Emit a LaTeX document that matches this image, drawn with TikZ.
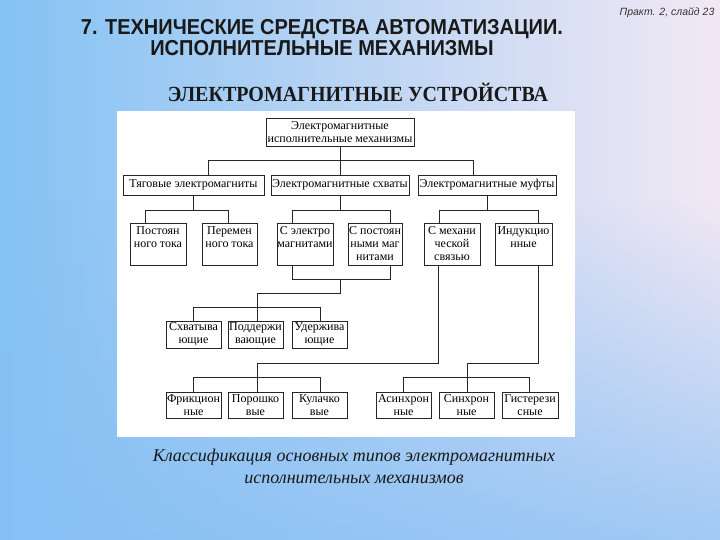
\documentclass[tikz,border=0pt]{standalone}
\usepackage{fontspec}
\setmainfont{Liberation Serif}
\newfontfamily\sansf{Liberation Sans}
\usetikzlibrary{fadings}
\definecolor{bgL}{HTML}{84C2F4}
\definecolor{bgR}{HTML}{F2E8F4}
\definecolor{bgB}{HTML}{86BFF4}
\begin{document}
\begin{tikzpicture}[x=1pt,y=-1pt,
  box/.style={draw=black!85, line width=0.8pt, fill=white, inner sep=0pt, align=center,
    font=\fontsize{12}{13}\selectfont},
  lvtwo/.style={box, minimum height=20},
  lvthree/.style={box, minimum height=42, minimum width=55},
  lvlow/.style={box, minimum height=27, minimum width=55},
  conn/.style={draw=black!85, line width=0.8pt}]
\useasboundingbox (0,0) rectangle (720,540);
% background
\fill[left color=bgL, right color=bgR] (0,0) rectangle (720,540);
\fill[bgB, opacity=0.75, path fading=north] (0,200) rectangle (720,540);
\fill[white] (117,111) rectangle (575,437);
% titles
\node[font=\sansf\bfseries\fontsize{20}{21}\selectfont, align=center, text=black!90] (title) at (322,38)
  {\scalebox{1}[1.08]{7. ТЕХНИЧЕСКИЕ СРЕДСТВА АВТОМАТИЗАЦИИ.}\\\scalebox{1}[1.08]{ИСПОЛНИТЕЛЬНЫЕ МЕХАНИЗМЫ}};
\node[font=\sansf\itshape\fontsize{10.5}{12}\selectfont, text=black!80] (slide) at (667,13) {Практ. 2, слайд 23};
\node[font=\bfseries\fontsize{20}{22}\selectfont, text=black!90] (sub) at (358,92) {\scalebox{1}[1.08]{ЭЛЕКТРОМАГНИТНЫЕ УСТРОЙСТВА}};
\node[font=\itshape\fontsize{18}{22}\selectfont, align=center, text=black!90] (cap) at (354,466)
  {Классификация основных типов электромагнитных\\исполнительных механизмов};
% boxes
\node[box, minimum width=148, minimum height=28] (top) at (340,132) {Электромагнитные\\исполнительные механизмы};
\node[lvtwo, minimum width=141] (A) at (193.5,185) {Тяговые электромагниты};
\node[lvtwo, minimum width=138] (B) at (340,185) {Электромагнитные схваты};
\node[lvtwo, minimum width=138] (C) at (487,185) {Электромагнитные муфты};
\node[lvthree, minimum width=56] (P1) at (158,244) {Постоян\\ного тока\\~};
\node[lvthree] (P2) at (229.5,244) {Перемен\\ного тока\\~};
\node[lvthree, minimum width=56] (P3) at (305,244) {С электро\\магнитами\\~};
\node[lvthree, minimum width=54] (P4) at (375,244) {С постоян\\ными маг\\нитами};
\node[lvthree, minimum width=56] (P5) at (452,244) {С механи\\ческой\\связью};
\node[lvthree, minimum width=57] (P6) at (523.5,244) {Индукцио\\нные\\~};
\node[lvlow] (Q1) at (193.5,334.5) {Схватыва\\ющие};
\node[lvlow] (Q2) at (255.5,334.5) {Поддержи\\вающие};
\node[lvlow] (Q3) at (319.5,334.5) {Удержива\\ющие};
\node[lvlow, minimum height=26] (R1) at (193.5,405) {Фрикцион\\ные};
\node[lvlow, minimum height=26] (R2) at (255.5,405) {Порошко\\вые};
\node[lvlow, minimum height=26] (R3) at (319.5,405) {Кулачко\\вые};
\node[lvlow, minimum height=26] (R4) at (403.5,405) {Асинхрон\\ные};
\node[lvlow, minimum height=26] (R5) at (466.5,405) {Синхрон\\ные};
\node[lvlow, minimum height=26, minimum width=56] (R6) at (530,405) {Гистерези\\сные};
% connectors level 1
\coordinate (j1) at (208,160);
\coordinate (j2) at (473,160);
\draw[conn] (top.south) -- (top.south |- j1);
\draw[conn] (j1) -- (j2);
\draw[conn] (j1) -- (j1 |- A.north);
\draw[conn] (top.south |- j1) -- (B.north);
\draw[conn] (j2) -- (j2 |- C.north);
% level 2 -> 3
\coordinate (a1) at (145,210); \coordinate (a2) at (228,210);
\draw[conn] (A.south) -- (A.south |- a1);
\draw[conn] (a1) -- (a2);
\draw[conn] (a1) -- (a1 |- P1.north);
\draw[conn] (a2) -- (a2 |- P2.north);
\coordinate (b1) at (292,210); \coordinate (b2) at (390,210);
\draw[conn] (B.south) -- (B.south |- b1);
\draw[conn] (b1) -- (b2);
\draw[conn] (b1) -- (b1 |- P3.north);
\draw[conn] (b2) -- (b2 |- P4.north);
\coordinate (c1) at (439,210); \coordinate (c2) at (538,210);
\draw[conn] (C.south) -- (C.south |- c1);
\draw[conn] (c1) -- (c2);
\draw[conn] (c1) -- (c1 |- P5.north);
\draw[conn] (c2) -- (c2 |- P6.north);
% level 3 -> 4
\coordinate (d1) at (292,279); \coordinate (d2) at (390,279);
\coordinate (d3) at (340,279); \coordinate (d4) at (340,293);
\coordinate (d5) at (257,293); \coordinate (d6) at (257,307);
\coordinate (e1) at (193,307); \coordinate (e2) at (320,307);
\draw[conn] (d1 |- P3.south) -- (d1) -- (d2) -- (d2 |- P4.south);
\draw[conn] (d3) -- (d4) -- (d5) -- (d6);
\draw[conn] (e1) -- (e2);
\draw[conn] (e1) -- (e1 |- Q1.north);
\draw[conn] (d6) -- (d6 |- Q2.north);
\draw[conn] (e2) -- (e2 |- Q3.north);
% level 3 -> 5 left
\coordinate (f1) at (438,363); \coordinate (f2) at (257,363);
\coordinate (f3) at (257,377);
\coordinate (g1) at (193,377); \coordinate (g2) at (320,377);
\draw[conn] (f1 |- P5.south) -- (f1) -- (f2) -- (f3);
\draw[conn] (g1) -- (g2);
\draw[conn] (g1) -- (g1 |- R1.north);
\draw[conn] (f3) -- (f3 |- R2.north);
\draw[conn] (g2) -- (g2 |- R3.north);
% level 3 -> 5 right
\coordinate (h1) at (538,363); \coordinate (h2) at (467,363);
\coordinate (h3) at (467,377);
\coordinate (k1) at (403,377); \coordinate (k2) at (529,377);
\draw[conn] (h1 |- P6.south) -- (h1) -- (h2) -- (h3);
\draw[conn] (k1) -- (k2);
\draw[conn] (k1) -- (k1 |- R4.north);
\draw[conn] (h3) -- (h3 |- R5.north);
\draw[conn] (k2) -- (k2 |- R6.north);
\end{tikzpicture}
\end{document}
